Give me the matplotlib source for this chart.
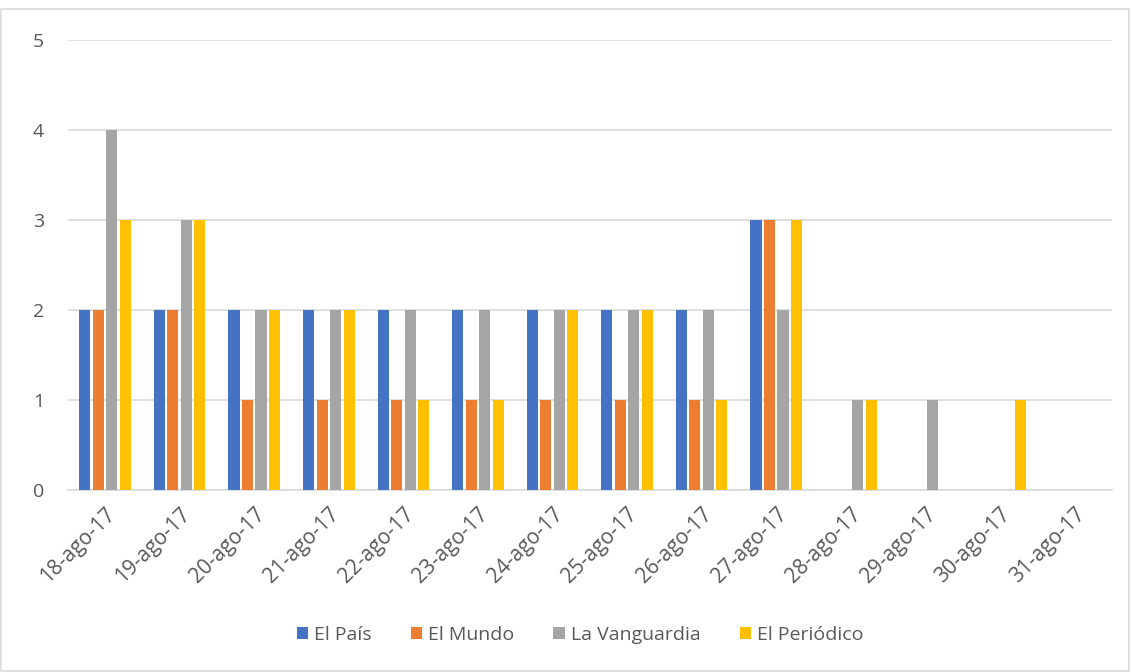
import numpy as np
import matplotlib.pyplot as plt
from matplotlib.patches import Rectangle

plt.rcParams['font.family'] = ['Open Sans', 'DejaVu Sans']

fechas = ['18-ago-17', '19-ago-17', '20-ago-17', '21-ago-17', '22-ago-17',
          '23-ago-17', '24-ago-17', '25-ago-17', '26-ago-17', '27-ago-17',
          '28-ago-17', '29-ago-17', '30-ago-17', '31-ago-17']

el_pais = [2, 2, 2, 2, 2, 2, 2, 2, 2, 3, 0, 0, 0, 0]
el_mundo = [2, 2, 1, 1, 1, 1, 1, 1, 1, 3, 0, 0, 0, 0]
la_vanguardia = [4, 3, 2, 2, 2, 2, 2, 2, 2, 2, 1, 1, 0, 0]
el_periodico = [3, 3, 2, 2, 1, 1, 2, 2, 1, 3, 1, 0, 1, 0]

series = [('El País', el_pais, '#4472C4'),
          ('El Mundo', el_mundo, '#ED7D31'),
          ('La Vanguardia', la_vanguardia, '#A5A5A5'),
          ('El Periódico', el_periodico, '#FFC000')]

fig = plt.figure(figsize=(11.31, 6.72), dpi=100)
ax = fig.add_axes([0.060, 0.271, 0.923, 0.669])

x = np.arange(len(fechas))
step = 0.181
for i, (name, vals, col) in enumerate(series):
    ax.bar(x + (i - 1.5) * step, vals, width=step * 0.82, color=col,
           linewidth=0, label=name, zorder=3)

ax.set_xlim(-0.5, len(fechas) - 0.5)
ax.set_ylim(0, 5)
ax.set_yticks(range(6))
ax.yaxis.grid(True, color='#D9D9D9', linewidth=1.2, zorder=0)
for s in ['left', 'right', 'top']:
    ax.spines[s].set_visible(False)
ax.spines['bottom'].set_color('#D9D9D9')
ax.spines['bottom'].set_linewidth(1.2)

ax.set_xticks(x)
ax.set_xticklabels(fechas, rotation=45, ha='right', va='top', rotation_mode='anchor')
ax.tick_params(axis='both', length=0, labelsize=14, labelcolor='#595959')
ax.tick_params(axis='x', labelsize=15, pad=10)
ax.tick_params(axis='y', pad=17)
for lab in ax.get_xticklabels():
    lab.set_x(lab.get_position()[0])

fig.legend(loc='center', bbox_to_anchor=(0.513, 0.055), ncol=4, frameon=False,
           fontsize=14, labelcolor='#595959', handlelength=0.6, handleheight=0.6,
           columnspacing=2.0, handletextpad=0.3)

fig.patches.append(Rectangle((0.001, 0.001), 0.997, 0.986, transform=fig.transFigure,
                             fill=False, edgecolor='#D9D9D9', linewidth=1.2))

fig.savefig('out.png', dpi=100)
